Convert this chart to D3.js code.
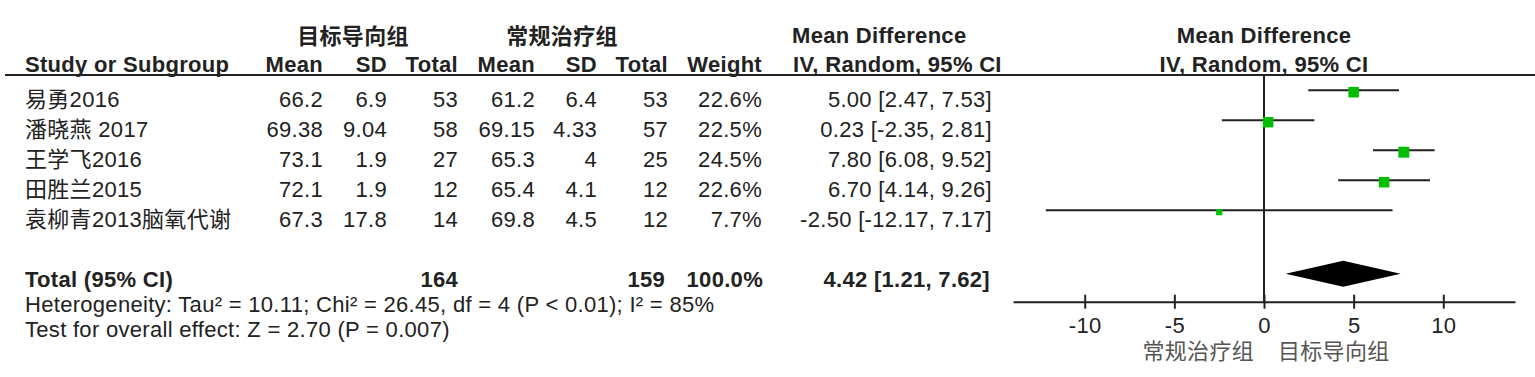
<!DOCTYPE html>
<html>
<head>
<meta charset="utf-8">
<script src="https://cdn.jsdelivr.net/npm/d3@7"></script>
<style>
  body { margin: 0; background: #fff; }
  svg text { font-family: "Liberation Sans", Arial, "Noto Sans CJK SC", sans-serif; fill: #222; letter-spacing: 0.3px; }
</style>
</head>
<body>
<div id="forest"></div>
<script>
// study data
const studies  = ["易勇2016", "潘晓燕 2017", "王学飞2016", "田胜兰2015", "袁柳青2013脑氧代谢"];
const expMean  = [66.2, 69.38, 73.1, 72.1, 67.3];
const expSD    = [6.9, 9.04, 1.9, 1.9, 17.8];
const expN     = [53, 58, 27, 12, 14];
const ctlMean  = [61.2, 69.15, 65.3, 65.4, 69.8];
const ctlSD    = [6.4, 4.33, 4, 4.1, 4.5];
const ctlN     = [53, 57, 25, 12, 12];
const weights  = [22.6, 22.5, 24.5, 22.6, 7.7];
const md       = [5.00, 0.23, 7.80, 6.70, -2.50];
const ciLow    = [2.47, -2.35, 6.08, 4.14, -12.17];
const ciHigh   = [7.53, 2.81, 9.52, 9.26, 7.17];
const totalN   = [164, 159];
const pooled   = [4.42, 1.21, 7.62];   // estimate, lower, upper
const xTicks   = [-10, -5, 0, 5, 10];
const groups   = ["目标导向组", "常规治疗组"];
const heteroText = "Heterogeneity: Tau² = 10.11; Chi² = 26.45, df = 4 (P < 0.01); I² = 85%";
const effectText = "Test for overall effect: Z = 2.70 (P = 0.007)";

const W = 1535, H = 377, fs = 22, ink = "#222";

const svg = d3.select("#forest").append("svg")
    .attr("width", W)
    .attr("height", H);

// row baselines
const rowY = d3.scaleLinear().domain([0, 1]).range([106.7, 136.7]);
const totalY = 286.7;

// forest x scale
const x = d3.scaleLinear().domain([-14, 14]).range([1013, 1515]);
const axisY = 301.7;

// column right edges
const cols = {mean1: 323, sd1: 387, tot1: 458, mean2: 535, sd2: 597, tot2: 668, weight: 762, ci: 992};

function txt(xp, yp, s, anchor, bold) {
  return svg.append("text")
    .attr("x", xp).attr("y", yp)
    .attr("text-anchor", anchor || "start")
    .attr("font-size", fs)
    .attr("font-weight", bold ? "bold" : "normal")
    .text(s);
}

// header
svg.append("text")
  .attr("x", 353).attr("y", 44)
  .attr("text-anchor", "middle")
  .attr("font-size", fs).attr("font-weight", "bold")
  .style("font-family", "'Noto Sans CJK SC', sans-serif")
  .text(groups[0]);
svg.append("text")
  .attr("x", 562).attr("y", 44)
  .attr("text-anchor", "middle")
  .attr("font-size", fs).attr("font-weight", "bold")
  .style("font-family", "'Noto Sans CJK SC', sans-serif")
  .text(groups[1]);
txt(792, 43.3, "Mean Difference", "start", true);
txt(x(0), 43.3, "Mean Difference", "middle", true);

const hy = 71.5;
txt(25, hy, "Study or Subgroup", "start", true);
txt(cols.mean1, hy, "Mean", "end", true);
txt(cols.sd1, hy, "SD", "end", true);
txt(cols.tot1, hy, "Total", "end", true);
txt(cols.mean2, hy, "Mean", "end", true);
txt(cols.sd2, hy, "SD", "end", true);
txt(cols.tot2, hy, "Total", "end", true);
txt(cols.weight, hy, "Weight", "end", true);
txt(793, hy, "IV, Random, 95% CI", "start", true);
txt(x(0), hy, "IV, Random, 95% CI", "middle", true);

svg.append("line")
  .attr("x1", 5).attr("x2", W)
  .attr("y1", 75).attr("y2", 75)
  .attr("stroke", ink).attr("stroke-width", 2);

// study rows
studies.forEach((s, i) => {
  const y = rowY(i);
  txt(25, y, s);
  txt(cols.mean1, y, String(expMean[i]), "end");
  txt(cols.sd1, y, String(expSD[i]), "end");
  txt(cols.tot1, y, String(expN[i]), "end");
  txt(cols.mean2, y, String(ctlMean[i]), "end");
  txt(cols.sd2, y, String(ctlSD[i]), "end");
  txt(cols.tot2, y, String(ctlN[i]), "end");
  txt(cols.weight, y, weights[i].toFixed(1) + "%", "end");
  txt(cols.ci, y, `${md[i].toFixed(2)} [${ciLow[i].toFixed(2)}, ${ciHigh[i].toFixed(2)}]`, "end");
});

// total row
txt(25, totalY, "Total (95% CI)", "start", true);
txt(cols.tot1, totalY, String(totalN[0]), "end", true);
txt(cols.tot2 - 3, totalY, String(totalN[1]), "end", true);
txt(cols.weight + 1, totalY, "100.0%", "end", true);
txt(cols.ci - 2, totalY, `${pooled[0].toFixed(2)} [${pooled[1].toFixed(2)}, ${pooled[2].toFixed(2)}]`, "end", true);

txt(25, 311.7, heteroText);
txt(25, 336.7, effectText);

// zero line
svg.append("line")
  .attr("x1", x(0)).attr("x2", x(0))
  .attr("y1", 75).attr("y2", axisY)
  .attr("stroke", ink).attr("stroke-width", 2);

// CIs and squares
const plot = svg.append("g");
const rows = plot.selectAll("g.study")
  .data(studies.map((s, i) => i))
  .join("g").attr("class", "study");

rows.append("line")
  .attr("x1", i => x(ciLow[i]))
  .attr("x2", i => x(ciHigh[i]))
  .attr("y1", i => rowY(i) - 16.5)
  .attr("y2", i => rowY(i) - 16.5)
  .attr("stroke", ink).attr("stroke-width", 2);

const side = i => 2.21 * Math.sqrt(weights[i]);
rows.append("rect")
  .attr("x", i => x(md[i]) - side(i) / 2)
  .attr("y", i => rowY(i) - 14.5 - side(i) / 2)
  .attr("width", side)
  .attr("height", side)
  .attr("fill", "#00bf00");

// pooled diamond
const dy = totalY - 13;
plot.append("path")
  .attr("d", `M${x(pooled[1])},${dy} L${x(pooled[0])},${dy - 13} L${x(pooled[2])},${dy} L${x(pooled[0])},${dy + 13} Z`)
  .attr("fill", "#000");

// axis
const ax = svg.append("g")
  .attr("transform", `translate(0,${axisY})`)
  .call(d3.axisBottom(x).tickValues(xTicks).tickFormat(d => String(d))
    .tickSize(7).tickSizeOuter(0).tickPadding(9));
ax.select(".domain").attr("stroke", ink).attr("stroke-width", 2);
ax.selectAll(".tick line").attr("y1", -7).attr("stroke", ink).attr("stroke-width", 2);
ax.selectAll(".tick text")
  .attr("font-size", fs)
  .style("font-family", "'Liberation Sans', Arial, sans-serif")
  .attr("fill", ink);

// favours labels
svg.append("text")
  .attr("x", x(0) - 10).attr("y", 359)
  .attr("text-anchor", "end")
  .attr("font-size", fs)
  .style("fill", "#555")
  .text(groups[1]);
svg.append("text")
  .attr("x", x(0) + 14).attr("y", 359)
  .attr("text-anchor", "start")
  .attr("font-size", fs)
  .style("fill", "#555")
  .text(groups[0]);
</script>
</body>
</html>
